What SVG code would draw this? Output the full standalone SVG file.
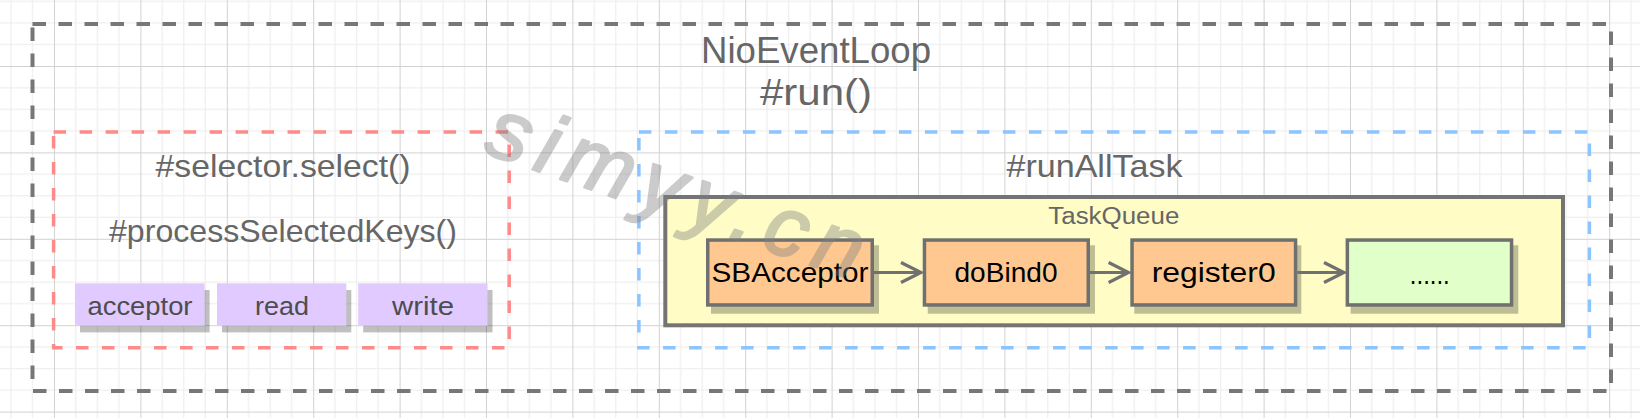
<svg xmlns="http://www.w3.org/2000/svg" width="1640" height="418" viewBox="0 0 1640 418">
<style>
text{font-family:"Liberation Sans",Arial,sans-serif}
.title{fill:#666;text-anchor:middle}
.frame{fill:none;stroke-width:4}
.gray{stroke:#777;stroke-dasharray:13.5 12.5}
.red{stroke:#FF8A8A;stroke-width:3.5;stroke-dasharray:12.5 13.5}
.blue{stroke:#8CC4FF;stroke-width:3.5;stroke-dasharray:12.5 13.5}
.shadow{fill:#000;fill-opacity:.25}
.key{fill:#E0CAFF}
.keytxt{fill:#4d4d4d;font-size:26px;text-anchor:middle}
.task{fill:#FFC891;stroke:#707070;stroke-width:3.5}
.more{fill:#E1FFC8;stroke:#707070;stroke-width:3.5}
.tasktxt{fill:#000;font-size:28px;text-anchor:middle}
.conn{stroke:#707070;stroke-width:3;fill:none}
</style>
<defs>
<pattern id="grid" patternUnits="userSpaceOnUse" x="54" y="66" width="86.4" height="86.4">
<rect x="21.1" y="0" width="1.3" height="86.4" fill="#efefef"/>
<rect x="42.7" y="0" width="1.3" height="86.4" fill="#efefef"/>
<rect x="64.3" y="0" width="1.3" height="86.4" fill="#efefef"/>
<rect x="0" y="21.1" width="86.4" height="1.3" fill="#efefef"/>
<rect x="0" y="42.7" width="86.4" height="1.3" fill="#efefef"/>
<rect x="0" y="64.3" width="86.4" height="1.3" fill="#efefef"/>
<rect x="0" y="0" width="1" height="86.4" fill="#d2d2d2"/>
<rect x="0" y="0" width="86.4" height="1" fill="#d2d2d2"/>
</pattern>
<marker id="arrow" markerUnits="userSpaceOnUse" markerWidth="24" markerHeight="26" viewBox="0 0 24 26" refX="21" refY="13" orient="auto">
<path d="M1,3 L21,13 L1,23" fill="none" stroke="#707070" stroke-width="3.2"/>
</marker>
</defs>
<rect x="0" y="0" width="1640" height="418" fill="#fff"/>
<rect x="0" y="0" width="1640" height="418" fill="url(#grid)"/>

<g id="nioEventLoop">
<rect class="frame gray" x="32.5" y="24" width="1578.5" height="367"/>
<text class="title" x="816" y="63" font-size="36" textLength="230" lengthAdjust="spacingAndGlyphs">NioEventLoop</text>
<text class="title" x="816" y="105" font-size="36" textLength="112" lengthAdjust="spacingAndGlyphs">#run()</text>
</g>

<g id="selectorBox">
<rect class="frame red" x="53.6" y="132" width="455.6" height="215.7"/>
<text class="title" x="283" y="177" font-size="32" textLength="255" lengthAdjust="spacingAndGlyphs">#selector.select()</text>
<text class="title" x="283" y="242" font-size="32" textLength="348" lengthAdjust="spacingAndGlyphs">#processSelectedKeys()</text>
</g>

<g id="acceptorKey">
<rect class="shadow" x="80" y="290" width="129.6" height="42.4"/>
<rect class="key" x="75" y="283.3" width="129.6" height="42.4"/>
<text class="keytxt" x="140" y="315" textLength="105" lengthAdjust="spacingAndGlyphs">acceptor</text>
</g>
<g id="readKey">
<rect class="shadow" x="222" y="290" width="129.3" height="42.4"/>
<rect class="key" x="217" y="283.3" width="129.3" height="42.4"/>
<text class="keytxt" x="282" y="315" textLength="54" lengthAdjust="spacingAndGlyphs">read</text>
</g>
<g id="writeKey">
<rect class="shadow" x="363.2" y="290" width="129.3" height="42.4"/>
<rect class="key" x="358.2" y="283.3" width="129.3" height="42.4"/>
<text class="keytxt" x="423" y="315" textLength="62" lengthAdjust="spacingAndGlyphs">write</text>
</g>

<g id="runAllTaskBox">
<rect class="frame blue" x="638.9" y="132" width="950.5" height="215.7"/>
<text class="title" x="1094.5" y="177" font-size="32" textLength="176" lengthAdjust="spacingAndGlyphs">#runAllTask</text>
</g>

<g id="taskQueue">
<rect x="665.3" y="197" width="897.7" height="128.3" fill="#FFFDC5" stroke="#747474" stroke-width="4"/>
<text class="title" x="1113.8" y="224" font-size="23" textLength="131" lengthAdjust="spacingAndGlyphs">TaskQueue</text>
</g>

<g id="sbAcceptor">
<rect class="shadow" x="711" y="245.3" width="168" height="68.4"/>
<rect class="task" x="707.75" y="240.05" width="164.5" height="64.9"/>
<text class="tasktxt" x="790" y="282" textLength="157" lengthAdjust="spacingAndGlyphs">SBAcceptor</text>
</g>
<g id="doBind0">
<rect class="shadow" x="927.7" y="245.3" width="167.3" height="68.4"/>
<rect class="task" x="924.45" y="240.05" width="163.8" height="64.9"/>
<text class="tasktxt" x="1006" y="282" textLength="103" lengthAdjust="spacingAndGlyphs">doBind0</text>
</g>
<g id="register0">
<rect class="shadow" x="1134.3" y="245.3" width="167" height="68.4"/>
<rect class="task" x="1132.05" y="240.05" width="163.5" height="64.9"/>
<text class="tasktxt" x="1213.7" y="282" textLength="124" lengthAdjust="spacingAndGlyphs">register0</text>
</g>
<g id="more">
<rect class="shadow" x="1350.6" y="245.3" width="167.7" height="68.4"/>
<rect class="more" x="1347.35" y="240.05" width="164.2" height="64.9"/>
<text class="tasktxt" x="1429.8" y="284" textLength="40" lengthAdjust="spacingAndGlyphs">......</text>
</g>

<g id="connectors">
<line class="conn" x1="874" y1="272.5" x2="921" y2="272.5" marker-end="url(#arrow)"/>
<line class="conn" x1="1090" y1="272.5" x2="1128.6" y2="272.5" marker-end="url(#arrow)"/>
<line class="conn" x1="1297.3" y1="272.5" x2="1344" y2="272.5" marker-end="url(#arrow)"/>
</g>

<g opacity="0.4">
<text x="482" y="152" transform="rotate(19 482 152)" font-size="84" font-style="italic" fill="#808080" stroke="#808080" stroke-width="2.5" stroke-linejoin="round" textLength="392" lengthAdjust="spacing">simyy.cn</text>
</g>
</svg>
